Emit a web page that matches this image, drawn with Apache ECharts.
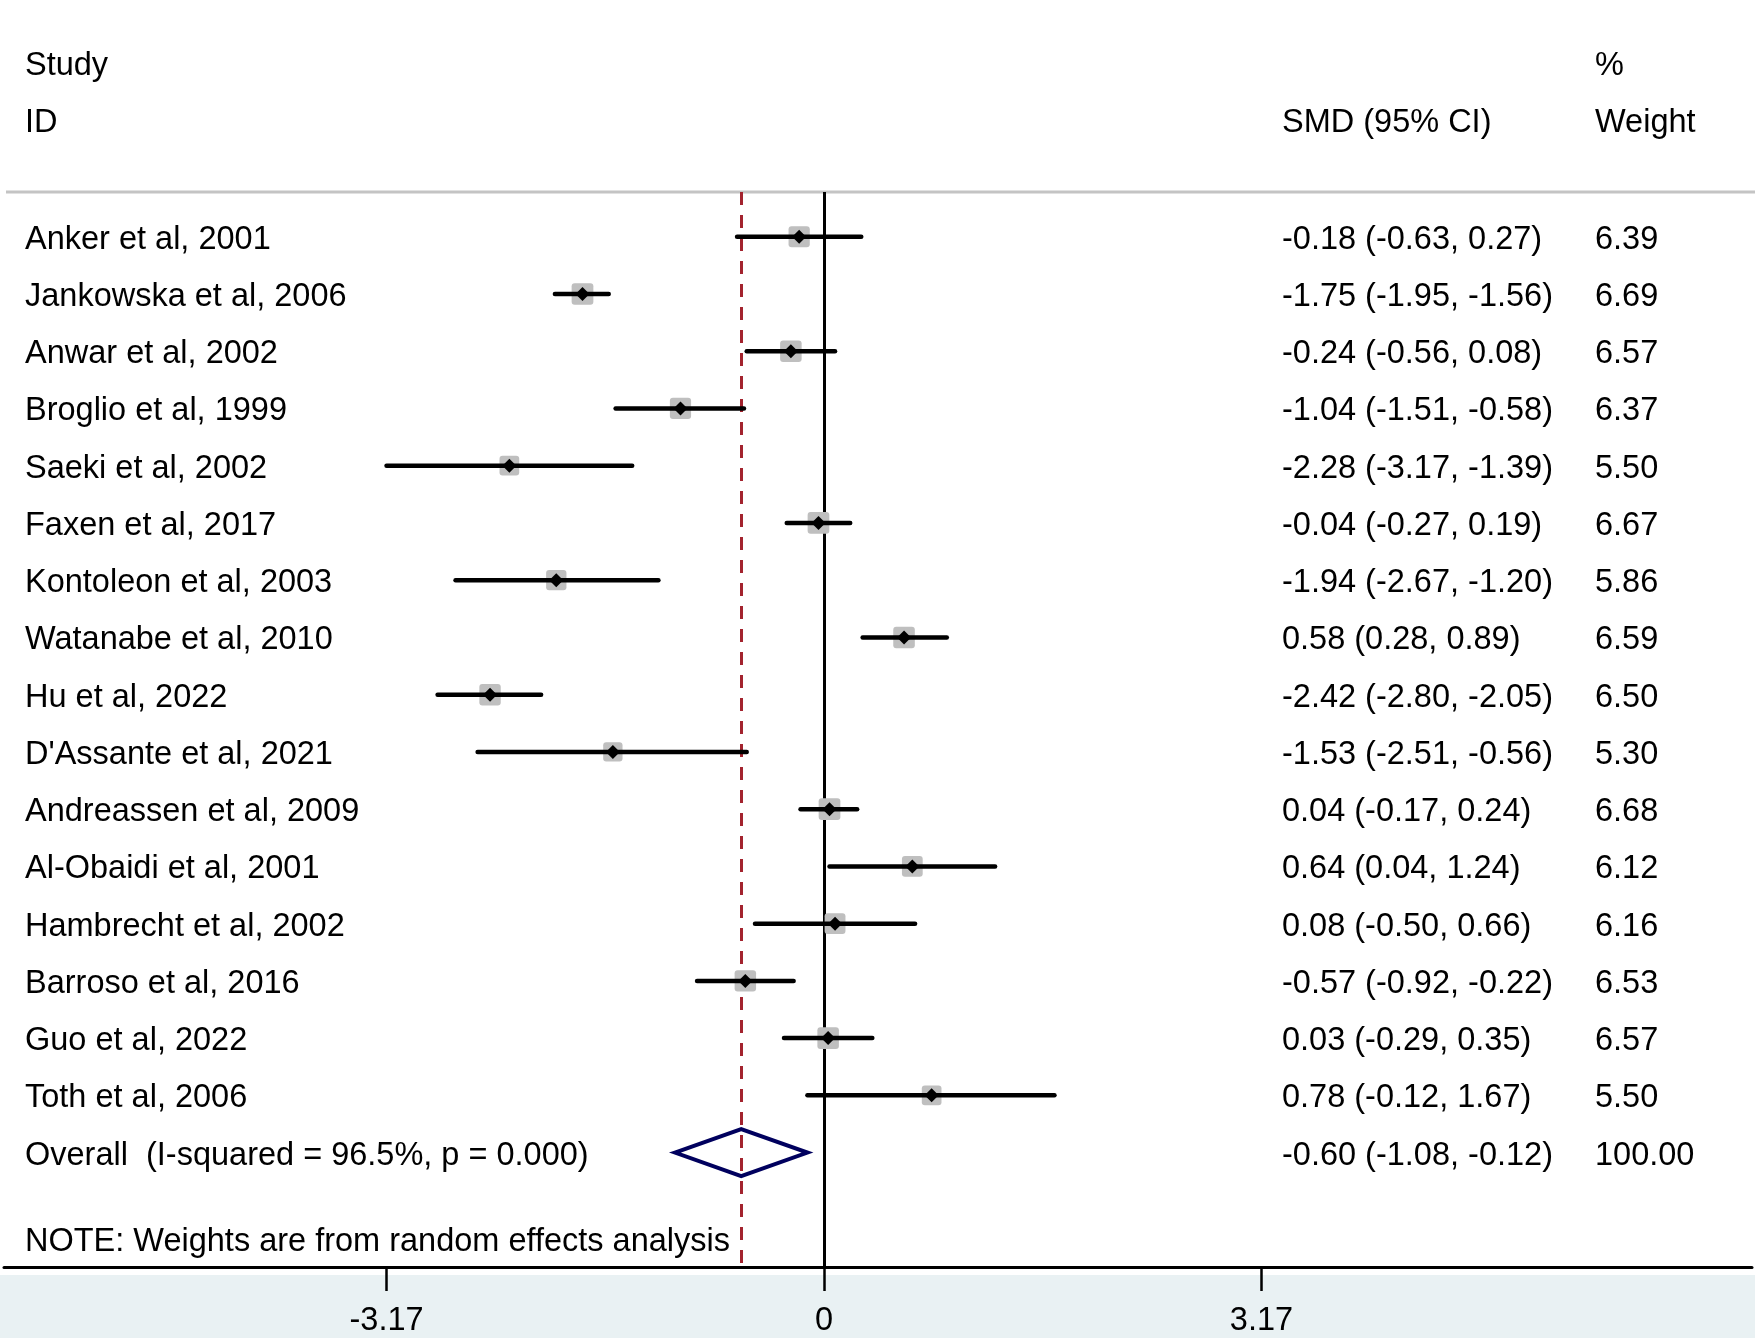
<!DOCTYPE html>
<html>
<head>
<meta charset="utf-8">
<script src="https://cdn.jsdelivr.net/npm/echarts@6/dist/echarts.min.js"></script>
<style>
html,body{margin:0;padding:0;background:#fff;}
#chart{width:1755px;height:1338px;}
</style>
</head>
<body>
<div id="chart"></div>
<script>
const studies = ["Anker et al, 2001","Jankowska et al, 2006","Anwar et al, 2002","Broglio et al, 1999","Saeki et al, 2002","Faxen et al, 2017","Kontoleon et al, 2003","Watanabe et al, 2010","Hu et al, 2022","D'Assante et al, 2021","Andreassen et al, 2009","Al-Obaidi et al, 2001","Hambrecht et al, 2002","Barroso et al, 2016","Guo et al, 2022","Toth et al, 2006"];
const smd = [-0.18,-1.75,-0.24,-1.04,-2.28,-0.04,-1.94,0.58,-2.42,-1.53,0.04,0.64,0.08,-0.57,0.03,0.78];
const ciLow = [-0.63,-1.95,-0.56,-1.51,-3.17,-0.27,-2.67,0.28,-2.80,-2.51,-0.17,0.04,-0.50,-0.92,-0.29,-0.12];
const ciHigh = [0.27,-1.56,0.08,-0.58,-1.39,0.19,-1.20,0.89,-2.05,-0.56,0.24,1.24,0.66,-0.22,0.35,1.67];
const weights = [6.39,6.69,6.57,6.37,5.50,6.67,5.86,6.59,6.50,5.30,6.68,6.12,6.16,6.53,6.57,5.50];
const overallLabel = "Overall  (I-squared = 96.5%, p = 0.000)";
const overall = {es:-0.60, lo:-1.08, hi:-0.12, w:100.00};
const noteText = "NOTE: Weights are from random effects analysis";
const tickValues = [-3.17, 0, 3.17];

const FONT = '"Liberation Sans", Arial, sans-serif';
const FS = 32.5;
const f2 = v => v.toFixed(2);
const ciText = (e,l,h) => `${f2(e)} (${f2(l)}, ${f2(h)})`;

const n = studies.length;
const forestData = studies.map((s,i)=>[i, smd[i], ciLow[i], ciHigh[i], weights[i]]);
const tableData = studies.map((s,i)=>[i, s, ciText(smd[i],ciLow[i],ciHigh[i]), f2(weights[i])]);
tableData.push([n, overallLabel, ciText(overall.es,overall.lo,overall.hi), f2(overall.w)]);
tableData.push([n+1.51, noteText, '', '']);

const chart = echarts.init(document.getElementById('chart'), null, {renderer:'canvas'});

const txt = (x,y,t)=>({type:'text', x:x, y:y+3, style:{text:t, fill:'#000', font:`${FS}px ${FONT}`, textAlign:'left', textVerticalAlign:'middle'}});

chart.setOption({
  animation:false,
  backgroundColor:'#fff',
  grid:{left:4, right:3, top:192, bottom:65, containLabel:false},
  xAxis:{
    type:'value', min:(4-824)/138, max:(1752-824)/138,
    splitLine:{show:false},
    axisLine:{show:true, onZero:false, lineStyle:{color:'#000', width:3}},
    axisTick:{show:true, customValues:tickValues, length:24, lineStyle:{color:'#000', width:2.5}},
    axisLabel:{show:true, customValues:tickValues, margin:38, color:'#000', fontSize:FS, fontFamily:FONT, formatter:v=>v===0?'0':v.toFixed(2)}
  },
  yAxis:{
    type:'value', inverse:true, min:(192-237)/57.56, max:(1273-237)/57.56,
    show:false, splitLine:{show:false}
  },
  graphic:[
    {type:'rect', shape:{x:0,y:1275,width:1755,height:63}, style:{fill:'#e9f1f3'}, z:-10},
    {type:'line', shape:{x1:6,y1:192,x2:1755,y2:192}, style:{stroke:'#c4c4c4', lineWidth:3}},
    txt(25,63,'Study'), txt(25,120,'ID'),
    txt(1282,120,'SMD (95% CI)'),
    txt(1595,63,'%'), txt(1595,120,'Weight')
  ],
  series:[
    {
      type:'custom', name:'refs', data:[], z:1,
      renderItem:()=>null,
      markLine:{
        silent:true, symbol:['none','none'], label:{show:false},
        data:[
          {xAxis:0, lineStyle:{color:'#000', width:3, type:'solid'}},
          {xAxis:overall.es, lineStyle:{color:'#a3232e', width:3, type:[13,10]}}
        ]
      }
    },
    {
      type:'custom', name:'studies', data:forestData, z:5,
      encode:{x:1, y:0},
      renderItem:(params, api)=>{
        const row = api.value(0);
        const p = api.coord([api.value(1), row]);
        const pl = api.coord([api.value(2), row]);
        const ph = api.coord([api.value(3), row]);
        const s = Math.sqrt(api.value(4))*8.4;
        const d = 7;
        return {type:'group', children:[
          {type:'rect', shape:{x:p[0]-s/2, y:p[1]-s/2, width:s, height:s, r:3}, style:{fill:'#bfbfbf'}},
          {type:'line', shape:{x1:pl[0], y1:pl[1], x2:ph[0], y2:ph[1]}, style:{stroke:'#000', lineWidth:4.5, lineCap:'round'}},
          {type:'polygon', shape:{points:[[p[0]-d,p[1]],[p[0],p[1]-d],[p[0]+d,p[1]],[p[0],p[1]+d]]}, style:{fill:'#000'}}
        ]};
      }
    },
    {
      type:'custom', name:'overall', data:[[n, overall.es, overall.lo, overall.hi]], z:5,
      renderItem:(params, api)=>{
        const row = api.value(0);
        const p = api.coord([api.value(1), row]);
        const pl = api.coord([api.value(2), row]);
        const ph = api.coord([api.value(3), row]);
        const h = 23.5;
        return {type:'polygon', shape:{points:[[pl[0],p[1]],[p[0],p[1]-h],[ph[0],p[1]],[p[0],p[1]+h]]},
          style:{fill:'rgba(255,255,255,0)', stroke:'#00005e', lineWidth:4, lineJoin:'miter'}};
      }
    },
    {
      type:'custom', name:'table', data:tableData, z:6,
      renderItem:(params, api)=>{
        const i = params.dataIndex;
        const d = tableData[i];
        const y = api.coord([0, d[0]])[1];
        return {type:'group', children:[
          txt(25, y, d[1]), txt(1282, y, d[2]), txt(1595, y, d[3])
        ]};
      }
    }
  ]
});
</script>
</body>
</html>
